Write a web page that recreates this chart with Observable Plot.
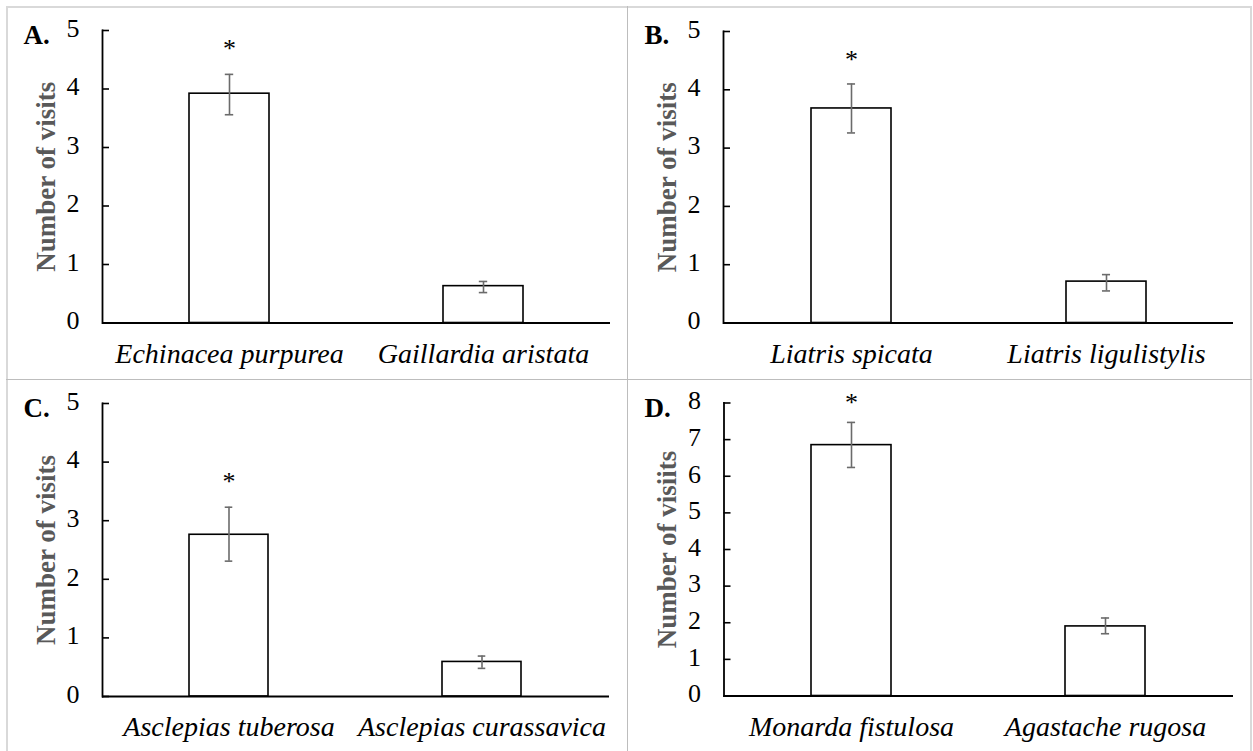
<!DOCTYPE html>
<html><head><meta charset="utf-8">
<script src="https://cdn.jsdelivr.net/npm/d3@7"></script>
<script src="https://cdn.jsdelivr.net/npm/@observablehq/plot@0.6"></script>
<style>
body{margin:0;background:#fff;}
#wrap{position:relative;width:1253px;height:751px;overflow:hidden;background:#fff;}
.cell{position:absolute;}
.ln{position:absolute;}
</style></head><body><div id="wrap"></div>
<script>
// ---- data ----
const letters = ["A.", "B.", "C.", "D."];
const yLabels = ["Number of visits", "Number of visits", "Number of visits", "Number of visiits"];

const speciesA = ["Echinacea purpurea", "Gaillardia aristata"];
const meanA = [3.92, 0.63];
const lowA = [3.56, 0.52];
const highA = [4.25, 0.71];
const starA = [4.75, null];

const speciesB = ["Liatris spicata", "Liatris ligulistylis"];
const meanB = [3.68, 0.71];
const lowB = [3.26, 0.55];
const highB = [4.10, 0.83];
const starB = [4.58, null];

const speciesC = ["Asclepias tuberosa", "Asclepias curassavica"];
const meanC = [2.76, 0.59];
const lowC = [2.31, 0.48];
const highC = [3.23, 0.69];
const starC = [3.74, null];

const speciesD = ["Monarda fistulosa", "Agastache rugosa"];
const meanD = [6.85, 1.90];
const lowD = [6.24, 1.70];
const highD = [7.47, 2.13];
const starD = [8.12, null];

const yTicksABC = [0, 1, 2, 3, 4, 5];
const yTicksD = [0, 1, 2, 3, 4, 5, 6, 7, 8];

// ---- drawing ----
const FONT = "Liberation Serif, Times New Roman, serif";
function panel(cfg) {
  const {w, h, mt, ml, mr, mb, cats, vals, lo, hi, star, ticks, letter, ylab} = cfg;
  const frameW = w - ml - mr;
  const pi = 0.6866, po = 0.3433;
  const bw = (frameW / (2 - pi + 2 * po)) * (1 - pi);
  const capInset = (bw - 8) / 2;
  const rows = cats.map((c, i) => ({c, v: vals[i], lo: lo[i], hi: hi[i], s: star[i]}));
  return Plot.plot({
    width: w, height: h, marginTop: mt, marginLeft: ml, marginRight: mr, marginBottom: mb,
    style: {fontFamily: FONT, fontSize: "24px", color: "#000", background: "transparent", overflow: "visible"},
    x: {domain: cats, paddingInner: pi, paddingOuter: po, label: null},
    y: {domain: [0, ticks[ticks.length - 1]], ticks, label: null},
    marks: [
      Plot.barY(rows, {x: "c", y: "v", fill: "white", stroke: "#000", strokeWidth: 1.6}),
      Plot.ruleX(rows, {x: "c", y1: "lo", y2: "hi", stroke: "#6b6b6b", strokeWidth: 1.6}),
      Plot.tickY(rows, {x: "c", y: "lo", stroke: "#6b6b6b", strokeWidth: 1.6, insetLeft: capInset, insetRight: capInset}),
      Plot.tickY(rows, {x: "c", y: "hi", stroke: "#6b6b6b", strokeWidth: 1.6, insetLeft: capInset, insetRight: capInset}),
      Plot.text(rows, {x: "c", y: "s", text: () => "*", fontFamily: FONT, fontSize: 26, dy: 4, fill: "#000"}),
      Plot.ruleY(ticks, {y: d => d, stroke: "#000", strokeWidth: 1.6, insetRight: frameW - 7}),
      Plot.ruleY([0], {stroke: "#000", strokeWidth: 1.8}),
      Plot.frame({anchor: "left", stroke: "#000", strokeWidth: 1.8}),
      Plot.axisY({ticks, tickSize: 0, tickPadding: 23, fontSize: 26, dy: -2, fontFamily: FONT, fontVariant: "normal", tickFormat: d => String(d), fill: "#000"}),
      Plot.axisX({tickSize: 0, tickPadding: 20, fontSize: 28, fontFamily: FONT, fontStyle: "italic", fontVariant: "normal", fill: "#000"}),
      Plot.text([ylab], {frameAnchor: "left", text: d => d, rotate: -90, dx: -48, textAnchor: "middle", lineAnchor: "bottom", fontFamily: FONT, fontSize: 27, fontWeight: "bold", fill: "#595959"}),
      Plot.text([letter], {frameAnchor: "top-left", text: d => d, dx: 16 - ml, dy: 36 - mt, lineAnchor: "bottom", textAnchor: "start", fontFamily: FONT, fontSize: 27, fontWeight: "bold", fill: "#000"})
    ]
  });
}

const wrap = document.getElementById("wrap");
const cells = [
  {x: 7, y: 7, w: 621, h: 373, mt: 23, ml: 95, mr: 18, mb: 57.5, cats: speciesA, vals: meanA, lo: lowA, hi: highA, star: starA, ticks: yTicksABC, letter: letters[0], ylab: yLabels[0]},
  {x: 628, y: 7, w: 623, h: 373, mt: 24, ml: 95, mr: 18, mb: 57.5, cats: speciesB, vals: meanB, lo: lowB, hi: highB, star: starB, ticks: yTicksABC, letter: letters[1], ylab: yLabels[1]},
  {x: 7, y: 380, w: 621, h: 371, mt: 23, ml: 95, mr: 19, mb: 55, cats: speciesC, vals: meanC, lo: lowC, hi: highC, star: starC, ticks: yTicksABC, letter: letters[2], ylab: yLabels[2]},
  {x: 628, y: 380, w: 623, h: 371, mt: 22.5, ml: 95.5, mr: 18, mb: 55.5, cats: speciesD, vals: meanD, lo: lowD, hi: highD, star: starD, ticks: yTicksD, letter: letters[3], ylab: yLabels[3]}
];
for (const c of cells) {
  const div = document.createElement("div");
  div.className = "cell";
  div.style.left = c.x + "px";
  div.style.top = c.y + "px";
  div.appendChild(panel(c));
  wrap.appendChild(div);
}
// table lines
const lines = [
  {l: 6, t: 6, w: 1246, h: 2, c: "#d9d9d9"},
  {l: 6, t: 6, w: 2, h: 745, c: "#d9d9d9"},
  {l: 1250, t: 6, w: 2, h: 745, c: "#d9d9d9"},
  {l: 627, t: 6, w: 1, h: 745, c: "#bdbdbd"},
  {l: 6, t: 379, w: 1246, h: 1, c: "#bdbdbd"}
];
for (const L of lines) {
  const d = document.createElement("div");
  d.className = "ln";
  Object.assign(d.style, {left: L.l + "px", top: L.t + "px", width: L.w + "px", height: L.h + "px", background: L.c});
  wrap.appendChild(d);
}
</script></body></html>
